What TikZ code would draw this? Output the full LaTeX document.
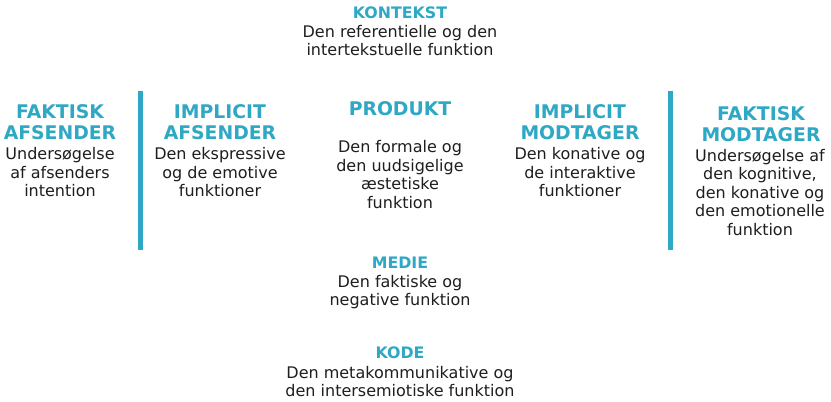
\documentclass[tikz,border=0pt]{standalone}
\usepackage{fontspec}
\setmainfont{DejaVu Sans}
\definecolor{tealc}{RGB}{46,168,196}
\definecolor{bodyc}{RGB}{30,30,30}
\tikzset{
  bighead/.style={anchor=base, inner sep=0pt, align=center, text=tealc, font=\bfseries\fontsize{18.8}{21}\selectfont},
  smallhead/.style={anchor=base, inner sep=0pt, align=center, text=tealc, font=\bfseries\fontsize{15.8}{18.5}\selectfont},
  bodytext/.style={anchor=base, inner sep=0pt, align=center, text=bodyc, font=\fontsize{16}{18.5}\selectfont},
  divider/.style={fill=tealc}
}
\begin{document}
\begin{tikzpicture}[x=1pt,y=-1pt]
\useasboundingbox[fill=white] (0,0) rectangle (831,402);
% top (base anchor = baseline of the last line)
\node[smallhead] (konH) at (400,18) {KONTEKST};
\node[bodytext] (konB) at (400,55.5) {Den referentielle og den\\intertekstuelle funktion};
% center
\node[bighead] (proH) at (400,115) {PRODUKT};
\node[bodytext] (proB) at (400,208) {Den formale og\\den uudsigelige\\æstetiske\\funktion};
% left
\node[bighead] (faH) at (60,139) {FAKTISK\\AFSENDER};
\node[bodytext] (faB) at (60,196.5) {Undersøgelse\\af afsenders\\intention};
\node[bighead] (iaH) at (220,139) {IMPLICIT\\AFSENDER};
\node[bodytext] (iaB) at (220,196.5) {Den ekspressive\\og de emotive\\funktioner};
% right
\node[bighead] (imH) at (580,139) {IMPLICIT\\MODTAGER};
\node[bodytext] (imB) at (580,196.5) {Den konative og\\de interaktive\\funktioner};
\node[bighead] (fmH) at (761,141) {FAKTISK\\MODTAGER};
\node[bodytext] (fmB) at (760,235) {Undersøgelse af\\den kognitive,\\den konative og\\den emotionelle\\funktion};
% bottom
\node[smallhead] (medH) at (400,268) {MEDIE};
\node[bodytext] (medB) at (400,305.5) {Den faktiske og\\negative funktion};
\node[smallhead] (kodH) at (400,358) {KODE};
\node[bodytext] (kodB) at (400,396.5) {Den metakommunikative og\\den intersemiotiske funktion};
% dividers
\fill[divider] (138,91) rectangle (143,250);
\fill[divider] (668,91) rectangle (673,250);
\end{tikzpicture}
\end{document}
